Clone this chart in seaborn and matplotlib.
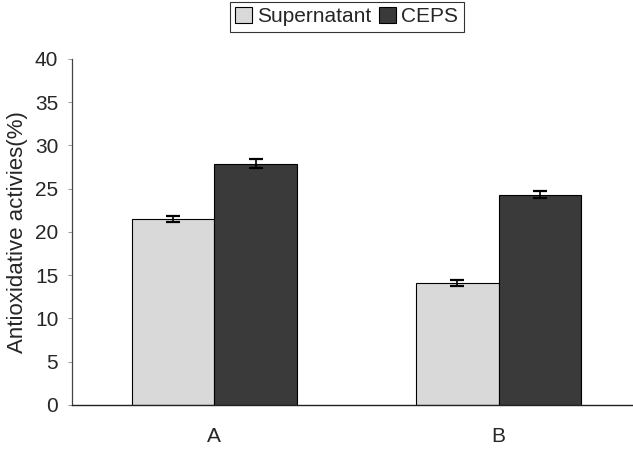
import matplotlib
matplotlib.use("Agg")
import matplotlib.pyplot as plt
import seaborn as sns
import pandas as pd
import numpy as np

groups = ["A", "B"]
series = ["Supernatant", "CEPS"]
supernatant = [21.5, 14.1]
ceps = [27.9, 24.3]
sup_err = [0.4, 0.3]
ceps_err = [0.5, 0.4]
yticks = [0, 5, 10, 15, 20, 25, 30, 35, 40]

sns.set_theme(style="white")
plt.rcParams["font.family"] = ["Liberation Sans", "DejaVu Sans"]

df = pd.DataFrame({
    "group": groups * 2,
    "series": [series[0]] * 2 + [series[1]] * 2,
    "value": supernatant + ceps,
})

fig = plt.figure(figsize=(6.33, 4.5), dpi=100)
ax = fig.add_axes([0.114, 0.1, 0.885, 0.769])
colors = ["#d9d9d9", "#3a3a3a"]
sns.barplot(data=df, x="group", y="value", hue="series", hue_order=series,
            palette=colors, width=0.58, edgecolor="black", linewidth=0.8,
            errorbar=None, ax=ax, saturation=1)

errs = {series[0]: sup_err, series[1]: ceps_err}
vals = {series[0]: supernatant, series[1]: ceps}
for cont, s in zip(ax.containers, series):
    xs = [p.get_x() + p.get_width() / 2 for p in cont]
    ax.errorbar(xs, vals[s], yerr=errs[s], fmt="none", ecolor="black",
                elinewidth=1.2, capsize=5, capthick=1.6, zorder=5)

ax.set_xlim(-0.5, 1.47)
ax.set_ylim(0, 40)
ax.set_yticks(yticks)
ax.set_yticklabels([str(t) for t in yticks], fontsize=15)
ax.set_xticks(range(len(groups)))
ax.set_xticklabels(groups, fontsize=15)
ax.set_xlabel("")
ax.set_ylabel("Antioxidative activies(%)", fontsize=16, labelpad=4)
ax.yaxis.set_label_coords(-0.079, 0.5)
ax.tick_params(axis="y", which="both", left=True, length=3, width=0.6, color="#888888", pad=7)
ax.tick_params(axis="x", bottom=False, pad=10)
for side in ["top", "right"]:
    ax.spines[side].set_visible(False)
ax.spines["left"].set_color("#444444")
ax.spines["bottom"].set_color("#222222")
ax.spines["left"].set_linewidth(0.9)
ax.spines["bottom"].set_linewidth(1.0)

leg = ax.legend(loc="upper center", bbox_to_anchor=(0.49, 1.195), ncol=2,
                frameon=True, fontsize=15, handlelength=0.8, handleheight=0.8,
                handletextpad=0.25, columnspacing=0.4, borderpad=0.25,
                fancybox=False, edgecolor="black")
leg.get_frame().set_linewidth(0.8)

fig.savefig("out.png", dpi=100)
